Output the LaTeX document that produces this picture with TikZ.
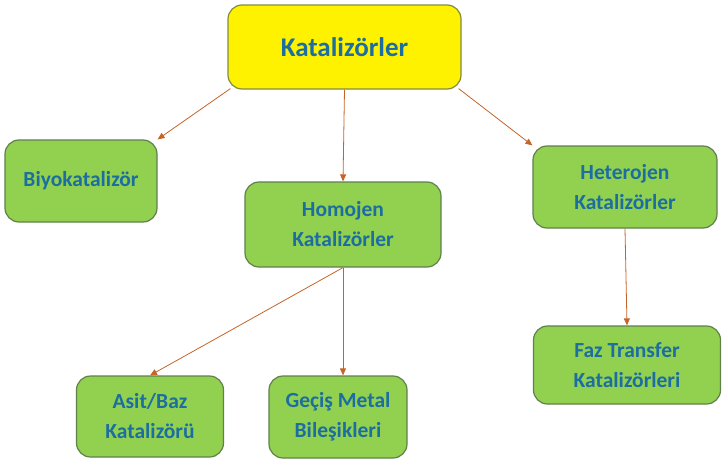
\documentclass[tikz,border=0pt]{standalone}
\usepackage{fontspec}
\setmainfont{Carlito}
\usetikzlibrary{arrows.meta}
\definecolor{boxgreen}{RGB}{146,208,80}
\definecolor{boxedge}{RGB}{96,128,76}
\definecolor{topedge}{RGB}{128,140,60}
\definecolor{txtblue}{RGB}{28,110,160}
\definecolor{linkorange}{RGB}{197,100,40}
\begin{document}
\begin{tikzpicture}[x=1pt,y=-1pt,
  catbox/.style={draw=boxedge, line width=1.2pt, fill=boxgreen, rounded corners=14pt,
    text=txtblue, font=\bfseries\fontsize{21.5}{30}\selectfont, align=center,
    inner sep=0pt},
  rootbox/.style={catbox, draw=topedge, fill=yellow, font=\bfseries\fontsize{27}{32}\selectfont},
  link/.style={draw=linkorange, line width=0.8pt, -{Triangle[length=7pt,width=6pt]}}]
\useasboundingbox (0,0) rectangle (723,463);
\node[rootbox, minimum width=233pt, minimum height=84pt] (root) at (344.5,47) {Katalizörler};
\node[catbox, minimum width=152pt, minimum height=82pt] (bio) at (81,181) {Biyokatalizör};
\node[catbox, minimum width=196pt, minimum height=85pt] (homo) at (343,224.5) {Homojen\\Katalizörler};
\node[catbox, minimum width=184pt, minimum height=82pt] (hetero) at (625,187) {Heterojen\\Katalizörler};
\node[catbox, minimum width=147pt, minimum height=81pt] (acid) at (150,416.5) {Asit/Baz\\Katalizörü};
\node[catbox, minimum width=138pt, minimum height=82pt] (metal) at (338,417) {Geçiş Metal\\Bileşikleri};
\node[catbox, minimum width=187pt, minimum height=78pt] (ptc) at (627,365) {Faz Transfer\\Katalizörleri};
\draw[link] (root.south west) ++(3,-1) -- (bio.north east);
\draw[link] (root.south) -- (homo.north);
\draw[link] (root.south east) ++(-3,-1) -- (hetero.north west);
\draw[link] (homo.south) -- (acid.north);
\draw[link] (homo.south) -- (metal.north -| homo.south);
\draw[link] (hetero.south) -- (ptc.north);
\end{tikzpicture}
\end{document}
